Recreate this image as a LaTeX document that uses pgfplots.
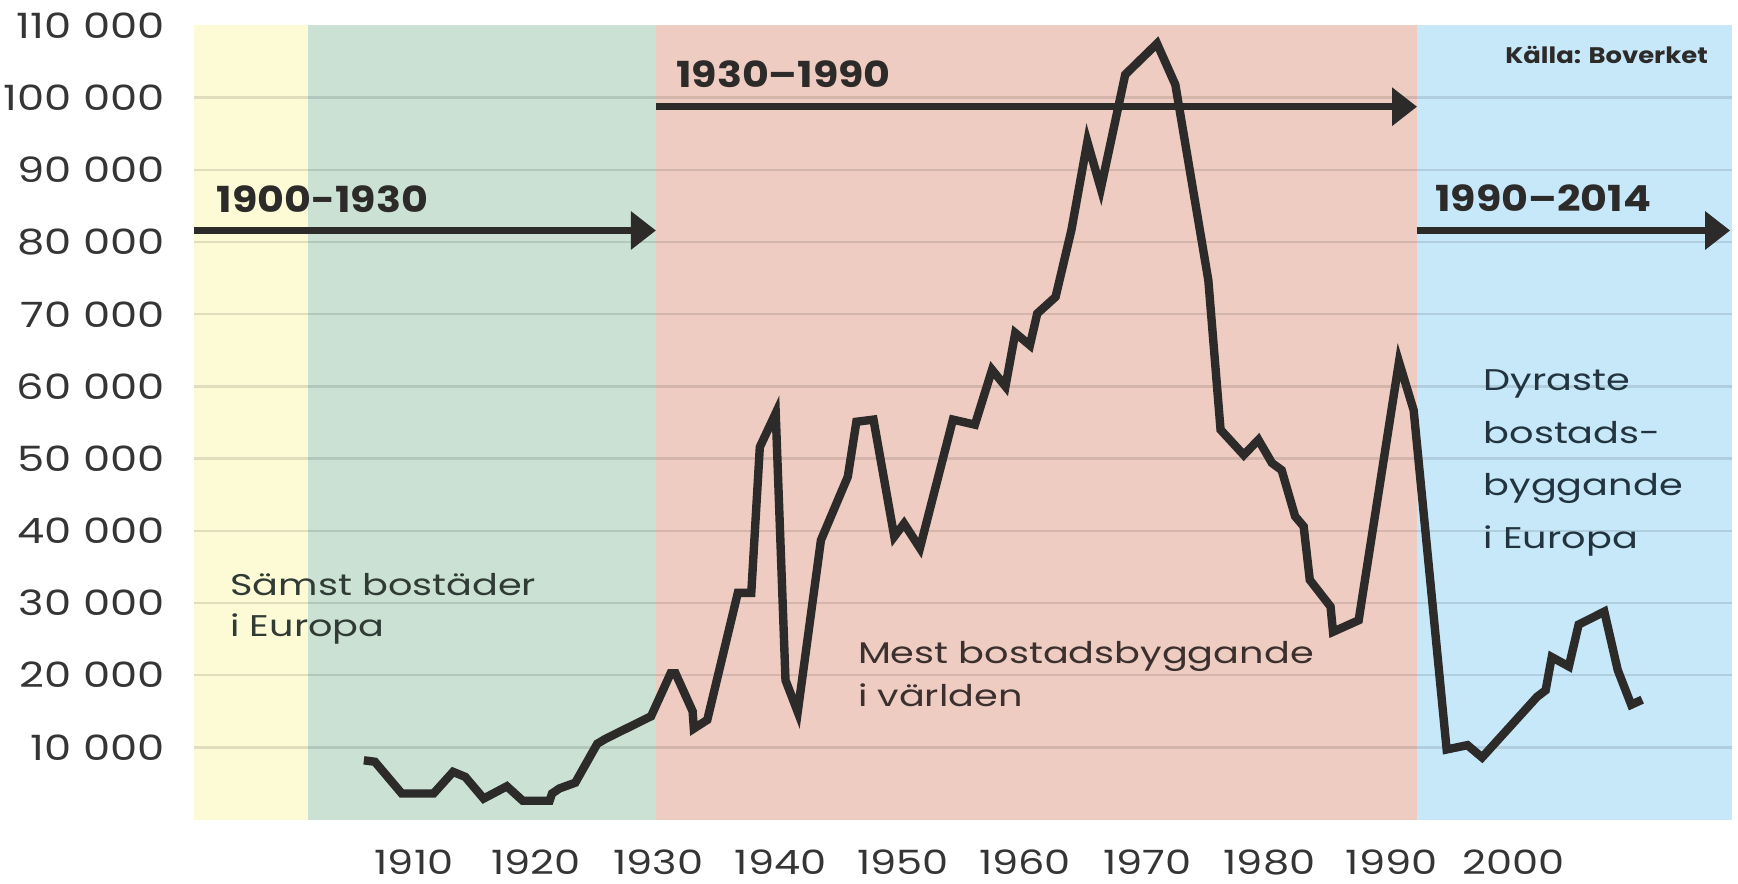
\documentclass[border=0pt]{standalone}
\usepackage{fontspec}
\setmainfont{Poppins}
\newfontfamily\ytickfont{Poppins}[FakeStretch=1.24]
\newfontfamily\annfont{Poppins}[FakeStretch=1.28]
\newfontfamily\boldfont{Poppins}[FakeStretch=1.15]
\usepackage{pgfplots}
\pgfplotsset{compat=1.18}
\usetikzlibrary{arrows.meta,calc}
\definecolor{bandY}{HTML}{FDFAD6}
\definecolor{bandG}{HTML}{CAE1D4}
\definecolor{bandR}{HTML}{EECCC2}
\definecolor{bandB}{HTML}{C6E8F9}
\definecolor{lineC}{HTML}{2D2A2A}
\definecolor{tickC}{HTML}{353535}
\definecolor{txtG}{HTML}{2F3B34}
\definecolor{txtR}{HTML}{3B302E}
\definecolor{txtB}{HTML}{22343F}
\begin{document}
\begin{tikzpicture}
\begin{axis}[
  set layers,
  scale only axis, width=769bp, height=397bp,
  xmin=1892, xmax=2017.85, ymin=0, ymax=110000,
  scaled x ticks=false, scaled y ticks=false,
  axis line style={draw=none},
  major tick length=0pt,
  tick style={draw=none},
  xtick={1910,1920,...,2000},
  xticklabels={1910,1920,1930,1940,1950,1960,1970,1980,1990,2000},
  ytick={10000,20000,...,100000},
  yticklabels={10 000,20 000,30 000,40 000,50 000,60 000,70 000,80 000,90 000,100 000},
  extra y ticks={110000},
  extra y tick labels={110 000},
  extra y tick style={grid=none},
  ymajorgrids,
  grid style={black, opacity=0.11, line width=1.2bp},
  xticklabel style={anchor=center, inner sep=0pt, yshift=-21.3bp, text=tickC, font=\ytickfont\fontsize{16.8}{16.8}\selectfont},
  yticklabel style={anchor=east, inner sep=0pt, xshift=-14.5bp, text=tickC, font=\ytickfont\fontsize{17.5}{17.5}\selectfont},
  clip=false,
]
\coordinate (SW) at (rel axis cs:0,0);
% background bands
\addplot[on layer=axis background, draw=none, fill=bandY, forget plot] coordinates {(1892,110000) (1901.3,110000)} \closedcycle;
\addplot[on layer=axis background, draw=none, fill=bandG, forget plot] coordinates {(1901.3,110000) (1929.8,110000)} \closedcycle;
\addplot[on layer=axis background, draw=none, fill=bandR, forget plot] coordinates {(1929.8,110000) (1992.1,110000)} \closedcycle;
\addplot[on layer=axis background, draw=none, fill=bandB, forget plot] coordinates {(1992.1,110000) (2017.85,110000)} \closedcycle;
% data line
\addplot[lineC, line width=4.2bp, line join=miter, mark=none] coordinates {
(1905.9,8200) (1906.8,8000) (1909.0,3600) (1911.6,3600) (1913.2,6600) (1914.2,5900)
(1915.7,2900) (1917.6,4600) (1918.9,2600) (1921.1,2600) (1921.3,3600) (1921.9,4300)
(1923.2,5100) (1925.0,10500) (1925.7,11200) (1929.4,14300) (1931.0,20250) (1931.4,20250)
(1932.8,15000) (1932.9,12600) (1934.0,13800) (1936.5,31400) (1937.6,31400) (1938.3,51600)
(1939.6,56300) (1940.4,19300) (1941.4,14900) (1943.3,38700) (1945.5,47500) (1946.2,55100)
(1947.6,55400) (1949.3,39200) (1950.1,41000) (1951.4,37600) (1954.1,55400) (1955.9,54700)
(1957.3,62300) (1958.4,60000) (1959.2,67400) (1960.4,65700) (1961.0,70100) (1962.5,72400)
(1963.8,81700) (1965.1,93900) (1966.2,87400) (1968.2,103200) (1970.8,107500) (1972.3,101800)
(1975.0,74700) (1976.0,54000) (1977.9,50500) (1979.1,52600) (1980.2,49400) (1981.0,48400)
(1982.1,42000) (1982.8,40600) (1983.3,33200) (1985.0,29500) (1985.2,26000) (1987.3,27600)
(1990.6,63400) (1991.8,56700) (1994.5,9700) (1996.2,10300) (1997.4,8600) (2001.9,17000)
(2002.6,17900) (2003.1,22500) (2004.5,21200) (2005.3,27000) (2007.4,28800) (2008.5,20700)
(2009.6,15900) (2010.5,16600)
};
% period arrows
\draw[lineC, line width=3.3bp, -{Triangle[length=12.5bp,width=18.5bp]}] (axis cs:1892,81600) -- (axis cs:1929.8,81600);
\draw[lineC, line width=3.3bp, -{Triangle[length=12.5bp,width=18.5bp]}] (axis cs:1929.8,98750) -- (axis cs:1992.08,98750);
\draw[lineC, line width=3.3bp, -{Triangle[length=12.5bp,width=18.5bp]}] (axis cs:1992.1,81600) -- (axis cs:2017.7,81600);
\node[anchor=base west, inner sep=0pt, text=lineC, font=\boldfont\bfseries\fontsize{18}{18}\selectfont] at (axis cs:1893.84,84030) {1900-1930};
\node[anchor=base west, inner sep=0pt, text=lineC, font=\boldfont\bfseries\fontsize{18}{18}\selectfont] at (axis cs:1931.43,101440) {1930–1990};
\node[anchor=base west, inner sep=0pt, text=lineC, font=\boldfont\bfseries\fontsize{18}{18}\selectfont] at (axis cs:1993.55,84200) {1990–2014};
\node[anchor=base east, inner sep=0pt, text=lineC, font=\boldfont\bfseries\fontsize{11.3}{11.3}\selectfont] at (axis cs:2015.9,104700) {Källa: Boverket};
% annotations
\node[anchor=base west, inner sep=0pt, text=txtG, font=\annfont\fontsize{15}{15}\selectfont] at (axis cs:1894.94,31010) {Sämst bostäder};
\node[anchor=base west, inner sep=0pt, text=txtG, font=\annfont\fontsize{15}{15}\selectfont] at (axis cs:1894.94,25330) {i Europa};
\node[anchor=base west, inner sep=0pt, text=txtR, font=\annfont\fontsize{15}{15}\selectfont] at (axis cs:1946.3,21640) {Mest bostadsbyggande};
\node[anchor=base west, inner sep=0pt, text=txtR, font=\annfont\fontsize{15}{15}\selectfont] at (axis cs:1946.3,15630) {i världen};
\node[anchor=base west, inner sep=0pt, text=txtB, font=\annfont\fontsize{15}{15}\selectfont] at (axis cs:1997.5,59500) {Dyraste};
\node[anchor=base west, inner sep=0pt, text=txtB, font=\annfont\fontsize{15}{15}\selectfont] at (axis cs:1997.5,52150) {bostads-};
\node[anchor=base west, inner sep=0pt, text=txtB, font=\annfont\fontsize{15}{15}\selectfont] at (axis cs:1997.5,44890) {byggande};
\node[anchor=base west, inner sep=0pt, text=txtB, font=\annfont\fontsize{15}{15}\selectfont] at (axis cs:1997.5,37610) {i Europa};
\end{axis}
\pgfresetboundingbox
\path[use as bounding box] ($(SW)+(-97bp,-32.25bp)$) rectangle ($(SW)+(772bp,409.75bp)$);
\end{tikzpicture}
\end{document}
